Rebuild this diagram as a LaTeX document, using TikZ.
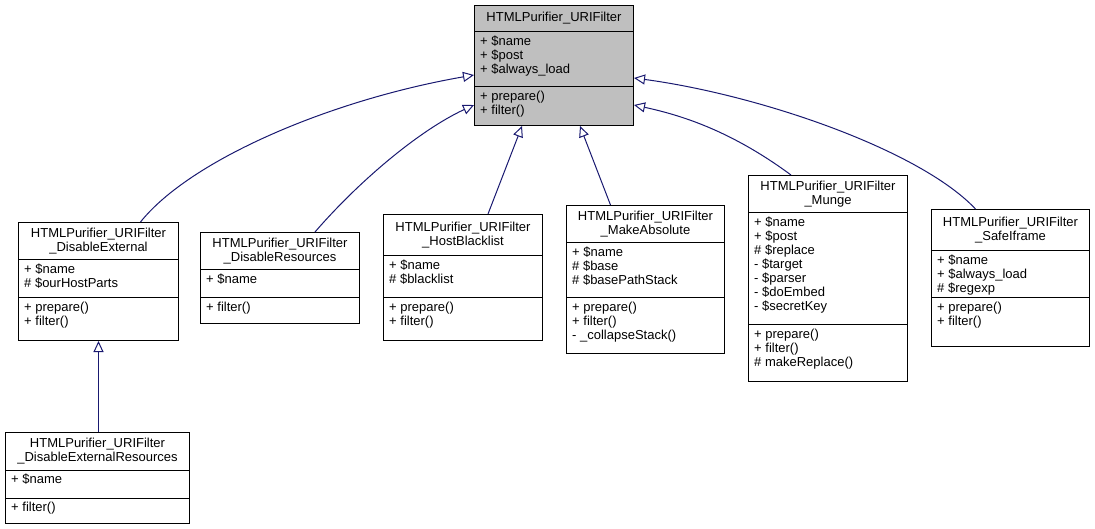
\documentclass[tikz,border=0pt]{standalone}
\usepackage{fontspec}
\setmainfont{Liberation Sans}
\usetikzlibrary{arrows.meta}
\definecolor{edgeblue}{HTML}{191970}
\tikzset{
  umltext/.style={font=\fontsize{13}{14}\selectfont, inner sep=0pt},
  inherit/.style={draw=edgeblue, line width=1pt, -{Triangle[open,length=11pt,width=10pt]}},
}
% name, top-left, width, title/attr/method heights, title, attrs, methods
\newcommand{\umlclass}[9]{%
  \node[draw, line width=1pt, anchor=north west, inner sep=0pt, minimum width=#3pt,
        minimum height={(#4+#5+#6)*1pt}] (#1) at (#2) {};
  \draw[line width=1pt] ([yshift={-#4*1pt}]#1.north west) -- ([yshift={-#4*1pt}]#1.north east);
  \draw[line width=1pt] ([yshift={-(#4+#5)*1pt}]#1.north west) -- ([yshift={-(#4+#5)*1pt}]#1.north east);
  \node[umltext, align=center] (#1-title) at ([yshift={-0.5*#4*1pt}]#1.north) {#7};
  \node[umltext, align=left, anchor=north west] (#1-attr)
    at ([xshift=6pt, yshift={-(#4+4)*1pt}]#1.north west) {#8};
  \node[umltext, align=left, anchor=north west] (#1-meth)
    at ([xshift=6pt, yshift={-(#4+#5+4)*1pt}]#1.north west) {#9};
}
\begin{document}
\begin{tikzpicture}[x=1pt,y=-1pt]
  \useasboundingbox (0,0) rectangle (1095,529);
  \fill[gray!50] (474,5) rectangle (633,125);
  \umlclass{base}{474,5}{159}{27}{55}{38}{HTMLPurifier\_URIFilter}
    {+ \$name\\+ \$post\\+ \$always\_load}{+ prepare()\\+ filter()}
  \umlclass{disext}{18,222}{160}{38}{38}{42}{HTMLPurifier\_URIFilter\\\_DisableExternal}
    {+ \$name\\\# \$ourHostParts}{+ prepare()\\+ filter()}
  \umlclass{disres}{200,232}{159}{38}{28}{25}{HTMLPurifier\_URIFilter\\\_DisableResources}
    {+ \$name}{+ filter()}
  \umlclass{hostbl}{383,214}{159}{42}{42}{42}{HTMLPurifier\_URIFilter\\\_HostBlacklist}
    {+ \$name\\\# \$blacklist}{+ prepare()\\+ filter()}
  \umlclass{mkabs}{566,205}{158}{38}{55}{55}{HTMLPurifier\_URIFilter\\\_MakeAbsolute}
    {+ \$name\\\# \$base\\\# \$basePathStack}{+ prepare()\\+ filter()\\- \_collapseStack()}
  \umlclass{munge}{748,175}{159}{38}{112}{56}{HTMLPurifier\_URIFilter\\\_Munge}
    {+ \$name\\+ \$post\\\# \$replace\\- \$target\\- \$parser\\- \$doEmbed\\- \$secretKey}
    {+ prepare()\\+ filter()\\\# makeReplace()}
  \umlclass{safeif}{931,209}{158}{42}{47}{48}{HTMLPurifier\_URIFilter\\\_SafeIframe}
    {+ \$name\\+ \$always\_load\\\# \$regexp}{+ prepare()\\+ filter()}
  \umlclass{disextres}{5,432}{184}{38}{28}{25}{HTMLPurifier\_URIFilter\\\_DisableExternalResources}
    {+ \$name}{+ filter()}
  % inheritance
  \draw[inherit] ([xshift=42pt]disext.north) .. controls (190,160) and (330,100) .. ([yshift=-70pt]base.north west);
  \draw[inherit] ([xshift=35pt]disres.north) .. controls (360,180) and (420,130) .. ([yshift=-100pt]base.north west);
  \draw[inherit] ([xshift=25pt]hostbl.north) -- ([xshift=48pt]base.south west);
  \draw[inherit] ([xshift=-35pt]mkabs.north) -- ([xshift=106pt]base.south west);
  \draw[inherit] ([xshift=-37pt]munge.north) .. controls (730,130) and (680,115) .. ([yshift=-100pt]base.north east);
  \draw[inherit] ([xshift=-35pt]safeif.north) .. controls (920,150) and (760,95) .. ([yshift=-73pt]base.north east);
  \draw[inherit] (disextres.north -| disext.south) -- (disext.south);
\end{tikzpicture}
\end{document}
